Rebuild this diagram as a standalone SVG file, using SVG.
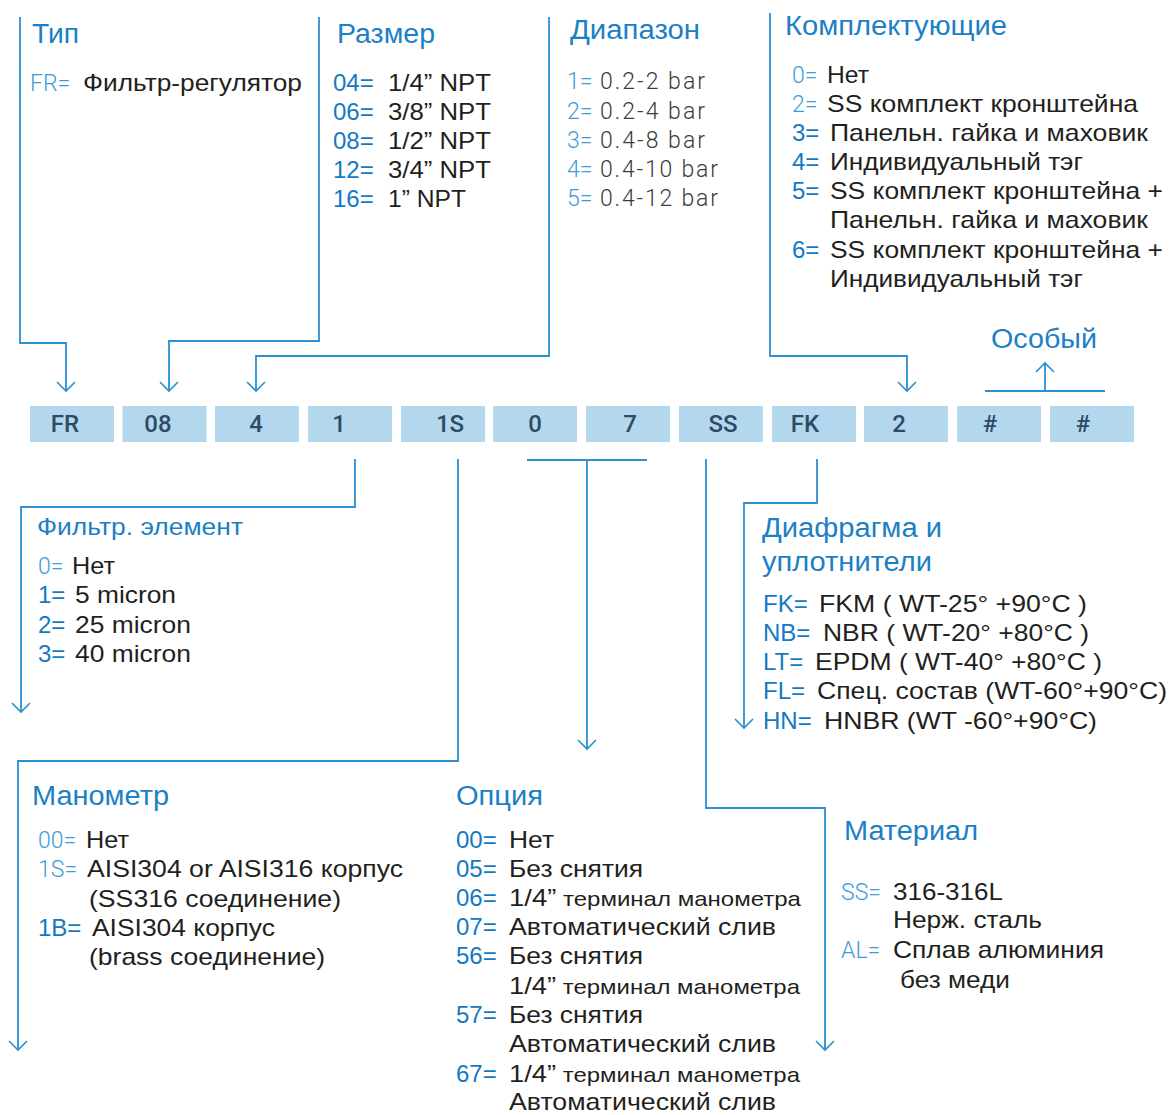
<svg xmlns="http://www.w3.org/2000/svg" width="1170" height="1115" viewBox="0 0 1170 1115">
<style>
.h{font-family:"Liberation Sans",Arial,sans-serif;font-size:27px;fill:#1b80c6}
.hs{font-family:"Liberation Sans",Arial,sans-serif;font-size:23px;fill:#1b80c6}
.t{font-family:"Liberation Sans",Arial,sans-serif;font-size:24px;fill:#231f20}
.pb{font-family:"Liberation Sans",Arial,sans-serif;font-size:24px;fill:#1479c3}
.pl{font-family:Roboto,"Liberation Sans",sans-serif;font-weight:300;font-size:23px;fill:#3e9bd8}
.d{font-family:Roboto,"Liberation Sans",sans-serif;font-weight:300;font-size:23px;fill:#3c3c3c}
.bx{fill:#b3d7ec}
.bt{font-family:Roboto,"Liberation Sans",sans-serif;font-weight:500;font-size:24px;fill:#2d4b66;text-anchor:middle}
.ln{fill:none;stroke:#2b8fd2;stroke-width:1.8}
</style>
<defs>
<marker id="arr" viewBox="-11 -11 22 22" refX="0" refY="0" markerWidth="22" markerHeight="22" markerUnits="userSpaceOnUse" orient="auto">
<path d="M-9,-9 L0,0 L-9,9" fill="none" stroke="#2b8fd2" stroke-width="1.6"/>
</marker>
</defs>
<rect width="1170" height="1115" fill="#ffffff"/>

<g id="connectors">
<path class="ln" d="M20,17 V343 H66 V391" marker-end="url(#arr)"/>
<path class="ln" d="M319,17 V341 H169 V391" marker-end="url(#arr)"/>
<path class="ln" d="M549,17 V356 H256 V391" marker-end="url(#arr)"/>
<path class="ln" d="M770,13 V356 H907 V391" marker-end="url(#arr)"/>
<path class="ln" d="M985,391 H1105"/>
<path class="ln" d="M1045,391 V363" marker-end="url(#arr)"/>
<path class="ln" d="M355,459 V507 H21 V712" marker-end="url(#arr)"/>
<path class="ln" d="M458,459 V761 H18 V1050" marker-end="url(#arr)"/>
<path class="ln" d="M527,460 H647"/>
<path class="ln" d="M587,460 V749" marker-end="url(#arr)"/>
<path class="ln" d="M706,459 V808 H825 V1050" marker-end="url(#arr)"/>
<path class="ln" d="M817,459 V503 H744 V728" marker-end="url(#arr)"/>
</g>

<g id="code-row">
<g id="box-fr"><rect class="bx" x="30" y="406" width="84" height="36"/><text class="bt" x="65" y="432">FR</text></g>
<g id="box-size"><rect class="bx" x="122.5" y="406" width="84" height="36"/><text class="bt" x="158" y="432">08</text></g>
<g id="box-range"><rect class="bx" x="215" y="406" width="84" height="36"/><text class="bt" x="256" y="432">4</text></g>
<g id="box-filter"><rect class="bx" x="308" y="406" width="84" height="36"/><text class="bt" x="339" y="432">1</text></g>
<g id="box-gauge"><rect class="bx" x="401" y="406" width="84" height="36"/><text class="bt" x="450" y="432">1S</text></g>
<g id="box-opt1"><rect class="bx" x="493" y="406" width="84" height="36"/><text class="bt" x="535" y="432">0</text></g>
<g id="box-opt2"><rect class="bx" x="586" y="406" width="84" height="36"/><text class="bt" x="630" y="432">7</text></g>
<g id="box-material"><rect class="bx" x="679" y="406" width="84" height="36"/><text class="bt" x="723" y="432">SS</text></g>
<g id="box-seal"><rect class="bx" x="772" y="406" width="84" height="36"/><text class="bt" x="805" y="432">FK</text></g>
<g id="box-acc"><rect class="bx" x="864" y="406" width="84" height="36"/><text class="bt" x="899" y="432">2</text></g>
<g id="box-sp1"><rect class="bx" x="957" y="406" width="84" height="36"/><text class="bt" x="990" y="432">#</text></g>
<g id="box-sp2"><rect class="bx" x="1050" y="406" width="84" height="36"/><text class="bt" x="1083" y="432">#</text></g>
</g>

<g id="type">
<text class="h" x="32" y="43" textLength="47" lengthAdjust="spacingAndGlyphs">Тип</text>
<text class="pl" x="30" y="91">FR=</text>
<text class="t" x="83" y="91" textLength="219" lengthAdjust="spacingAndGlyphs">Фильтр-регулятор</text>
</g>

<g id="size">
<text class="h" x="337" y="43" textLength="98" lengthAdjust="spacingAndGlyphs">Размер</text>
<text class="pb" x="333" y="91">04=</text><text class="t" x="388" y="91" textLength="103" lengthAdjust="spacingAndGlyphs">1/4” NPT</text>
<text class="pb" x="333" y="120">06=</text><text class="t" x="388" y="120" textLength="103" lengthAdjust="spacingAndGlyphs">3/8” NPT</text>
<text class="pb" x="333" y="149">08=</text><text class="t" x="388" y="149" textLength="103" lengthAdjust="spacingAndGlyphs">1/2” NPT</text>
<text class="pb" x="333" y="178">12=</text><text class="t" x="388" y="178" textLength="103" lengthAdjust="spacingAndGlyphs">3/4” NPT</text>
<text class="pb" x="333" y="207">16=</text><text class="t" x="388" y="207" textLength="78" lengthAdjust="spacingAndGlyphs">1” NPT</text>
</g>

<g id="range">
<text class="h" x="570" y="39" textLength="130" lengthAdjust="spacingAndGlyphs">Диапазон</text>
<text class="pl" x="567" y="89">1=</text><text class="d" x="600" y="89" textLength="105" lengthAdjust="spacing">0.2-2 bar</text>
<text class="pl" x="567" y="119">2=</text><text class="d" x="600" y="119" textLength="105" lengthAdjust="spacing">0.2-4 bar</text>
<text class="pl" x="567" y="148">3=</text><text class="d" x="600" y="148" textLength="105" lengthAdjust="spacing">0.4-8 bar</text>
<text class="pl" x="567" y="177">4=</text><text class="d" x="600" y="177" textLength="118" lengthAdjust="spacing">0.4-10 bar</text>
<text class="pl" x="567" y="206">5=</text><text class="d" x="600" y="206" textLength="118" lengthAdjust="spacing">0.4-12 bar</text>
</g>

<g id="accessories">
<text class="h" x="785" y="35" textLength="222" lengthAdjust="spacingAndGlyphs">Комплектующие</text>
<text class="pl" x="792" y="83">0=</text><text class="t" x="827" y="83" textLength="42" lengthAdjust="spacingAndGlyphs">Нет</text>
<text class="pl" x="792" y="112">2=</text><text class="t" x="827" y="112" textLength="311" lengthAdjust="spacingAndGlyphs">SS комплект кронштейна</text>
<text class="pb" x="792" y="141">3=</text><text class="t" x="830" y="141" textLength="318" lengthAdjust="spacingAndGlyphs">Панельн. гайка и маховик</text>
<text class="pb" x="792" y="170">4=</text><text class="t" x="830" y="170" textLength="253" lengthAdjust="spacingAndGlyphs">Индивидуальный тэг</text>
<text class="pb" x="792" y="199">5=</text><text class="t" x="830" y="199" textLength="333" lengthAdjust="spacingAndGlyphs">SS комплект кронштейна +</text>
<text class="t" x="830" y="228" textLength="318" lengthAdjust="spacingAndGlyphs">Панельн. гайка и маховик</text>
<text class="pb" x="792" y="258">6=</text><text class="t" x="830" y="258" textLength="333" lengthAdjust="spacingAndGlyphs">SS комплект кронштейна +</text>
<text class="t" x="830" y="287" textLength="253" lengthAdjust="spacingAndGlyphs">Индивидуальный тэг</text>
</g>

<g id="special">
<text class="h" x="991" y="348" textLength="106" lengthAdjust="spacingAndGlyphs">Особый</text>
</g>

<g id="filter-element">
<text class="hs" x="37" y="535" textLength="206" lengthAdjust="spacingAndGlyphs">Фильтр. элемент</text>
<text class="pl" x="38" y="574">0=</text><text class="t" x="72" y="574" textLength="43" lengthAdjust="spacingAndGlyphs">Нет</text>
<text class="pb" x="38" y="603">1=</text><text class="t" x="75" y="603" textLength="101" lengthAdjust="spacingAndGlyphs">5 micron</text>
<text class="pb" x="38" y="633">2=</text><text class="t" x="75" y="633" textLength="116" lengthAdjust="spacingAndGlyphs">25 micron</text>
<text class="pb" x="38" y="662">3=</text><text class="t" x="75" y="662" textLength="116" lengthAdjust="spacingAndGlyphs">40 micron</text>
</g>

<g id="diaphragm">
<text class="h" x="762" y="537" textLength="180" lengthAdjust="spacingAndGlyphs">Диафрагма и</text>
<text class="h" x="762" y="571" textLength="170" lengthAdjust="spacingAndGlyphs">уплотнители</text>
<text class="pb" x="763" y="612">FK=</text><text class="t" x="819" y="612" textLength="268" lengthAdjust="spacingAndGlyphs">FKM ( WT-25° +90°C )</text>
<text class="pb" x="763" y="641">NB=</text><text class="t" x="823" y="641" textLength="266" lengthAdjust="spacingAndGlyphs">NBR ( WT-20° +80°C )</text>
<text class="pb" x="763" y="670">LT=</text><text class="t" x="815" y="670" textLength="287" lengthAdjust="spacingAndGlyphs">EPDM ( WT-40° +80°C )</text>
<text class="pb" x="763" y="699">FL=</text><text class="t" x="817" y="699" textLength="350" lengthAdjust="spacingAndGlyphs">Спец. состав (WT-60°+90°C)</text>
<text class="pb" x="763" y="729">HN=</text><text class="t" x="824" y="729" textLength="273" lengthAdjust="spacingAndGlyphs">HNBR (WT -60°+90°C)</text>
</g>

<g id="gauge">
<text class="h" x="32" y="805" textLength="137" lengthAdjust="spacingAndGlyphs">Манометр</text>
<text class="pl" x="38" y="848">00=</text><text class="t" x="86" y="848" textLength="43" lengthAdjust="spacingAndGlyphs">Нет</text>
<text class="pl" x="38" y="877">1S=</text><text class="t" x="87" y="877" textLength="316" lengthAdjust="spacingAndGlyphs">AISI304 or AISI316 корпус</text>
<text class="t" x="89" y="907" textLength="252" lengthAdjust="spacingAndGlyphs">(SS316 соединение)</text>
<text class="pb" x="38" y="936">1B=</text><text class="t" x="92" y="936" textLength="183" lengthAdjust="spacingAndGlyphs">AISI304 корпус</text>
<text class="t" x="89" y="965" textLength="236" lengthAdjust="spacingAndGlyphs">(brass соединение)</text>
</g>

<g id="option">
<text class="h" x="456" y="805" textLength="87" lengthAdjust="spacingAndGlyphs">Опция</text>
<text class="pb" x="456" y="848">00=</text><text class="t" x="509" y="848" textLength="45" lengthAdjust="spacingAndGlyphs">Нет</text>
<text class="pb" x="456" y="877">05=</text><text class="t" x="509" y="877" textLength="134" lengthAdjust="spacingAndGlyphs">Без снятия</text>
<text class="pb" x="456" y="906">06=</text><text class="t" x="509" y="906" textLength="292" lengthAdjust="spacingAndGlyphs">1/4”<tspan font-size="21"> терминал манометра</tspan></text>
<text class="pb" x="456" y="935">07=</text><text class="t" x="509" y="935" textLength="267" lengthAdjust="spacingAndGlyphs">Автоматический слив</text>
<text class="pb" x="456" y="964">56=</text><text class="t" x="509" y="964" textLength="134" lengthAdjust="spacingAndGlyphs">Без снятия</text>
<text class="t" x="509" y="994" textLength="291" lengthAdjust="spacingAndGlyphs">1/4”<tspan font-size="21"> терминал манометра</tspan></text>
<text class="pb" x="456" y="1023">57=</text><text class="t" x="509" y="1023" textLength="134" lengthAdjust="spacingAndGlyphs">Без снятия</text>
<text class="t" x="509" y="1052" textLength="267" lengthAdjust="spacingAndGlyphs">Автоматический слив</text>
<text class="pb" x="456" y="1082">67=</text><text class="t" x="509" y="1082" textLength="291" lengthAdjust="spacingAndGlyphs">1/4”<tspan font-size="21"> терминал манометра</tspan></text>
<text class="t" x="509" y="1110" textLength="267" lengthAdjust="spacingAndGlyphs">Автоматический слив</text>
</g>

<g id="material">
<text class="h" x="844" y="840" textLength="134" lengthAdjust="spacingAndGlyphs">Материал</text>
<text class="pl" x="841" y="900">SS=</text><text class="t" x="893" y="900" textLength="110" lengthAdjust="spacingAndGlyphs">316-316L</text>
<text class="t" x="893" y="928" textLength="149" lengthAdjust="spacingAndGlyphs">Нерж. сталь</text>
<text class="pl" x="841" y="958">AL=</text><text class="t" x="893" y="958" textLength="211" lengthAdjust="spacingAndGlyphs">Сплав алюминия</text>
<text class="t" x="900" y="988" textLength="110" lengthAdjust="spacingAndGlyphs">без меди</text>
</g>
</svg>
